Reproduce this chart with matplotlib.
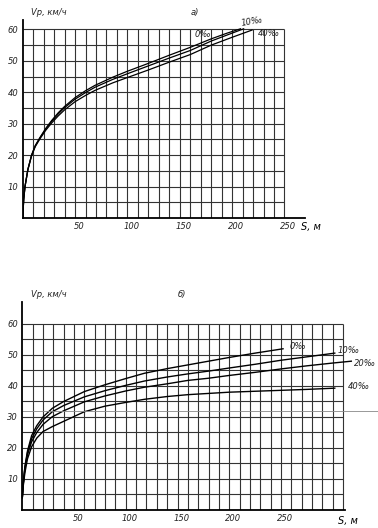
import matplotlib.pyplot as plt
from matplotlib.transforms import ScaledTranslation
import numpy as np

# --- panel a) ---
a_s0 = [0, 1, 2.2, 5, 8.5, 12, 16.5, 22, 27.6, 34, 40, 50, 60, 69, 86, 100, 120, 140, 160, 180, 195, 208]
a_v0 = [0, 6, 10, 15.5, 20, 23, 25.6, 28.5, 31, 33.5, 35.5, 38.3, 40.5, 42.2, 44.8, 46.7, 49.2, 51.8, 54.3, 57, 58.8, 60.2]
a_s10 = [0, 1, 2.2, 5, 8.5, 12, 16.5, 22, 27.6, 34, 40, 50, 60, 69, 86, 100, 120, 140, 160, 180, 195, 211]
a_v10 = [0, 6, 10, 15.5, 20, 23, 25.5, 28.3, 30.7, 33.1, 35.1, 37.8, 39.9, 41.6, 44.1, 45.9, 48.4, 50.9, 53.3, 56.3, 58.2, 60.2]
a_s40 = [0, 1, 2.2, 5, 8.5, 12, 16.5, 22, 27.6, 34, 40, 50, 60, 69, 86, 100, 120, 140, 160, 180, 200, 219]
a_v40 = [0, 6, 10, 15.4, 19.8, 22.7, 25.2, 27.9, 30.2, 32.5, 34.4, 37, 39, 40.6, 43, 44.7, 47.1, 49.6, 52, 55, 57.5, 59.8]
a_xticks = [50, 100, 150, 200, 250]
a_xlabels = ['50', '100', '150', '200', '250']
a_yticks = [10, 20, 30, 40, 50, 60]

# --- panel б) ---
b_s0 = [0, 1, 2.5, 5, 9, 14, 20, 29, 40, 60, 80, 100, 118, 140, 160, 180, 200, 225, 252]
b_v0 = [4, 9, 14, 19, 24, 27.2, 30, 32.8, 35, 38.2, 40.4, 42.4, 44.1, 45.6, 46.8, 48, 49.2, 50.6, 52]
b_s10 = [0, 1, 2.5, 5, 9, 14, 20, 29, 40, 60, 80, 100, 118, 140, 160, 180, 200, 225, 250, 275, 302]
b_v10 = [4, 8.8, 13.6, 18.5, 23, 26.2, 29, 31.7, 33.7, 36.5, 38.5, 40.2, 41.6, 42.9, 43.9, 44.8, 45.8, 47, 48.3, 49.4, 50.6]
b_s20 = [0, 1, 2.5, 5, 9, 14, 20, 29, 40, 60, 80, 100, 118, 140, 160, 180, 200, 225, 250, 275, 300, 318]
b_v20 = [4, 8.6, 13.2, 17.8, 22, 25, 27.6, 30.1, 32, 34.9, 36.8, 38.4, 39.6, 40.7, 41.8, 42.5, 43.4, 44.4, 45.5, 46.5, 47.4, 48]
b_s40 = [0, 1, 2.5, 5, 9, 14, 20, 29, 40, 60, 80, 100, 118, 140, 160, 180, 200, 225, 250, 275, 302]
b_v40 = [4, 8, 12, 16.5, 20.4, 23.2, 25.3, 26.9, 28.6, 31.7, 33.5, 34.7, 35.7, 36.6, 37.2, 37.6, 38, 38.3, 38.6, 38.9, 39.3]
b_xticks = [50, 100, 150, 200, 250]
b_xlabels = ['50', '100', '150', '200', '250']
b_yticks = [10, 20, 30, 40, 50, 60]

GRID_COLOR = '#333333'
LINE_COLOR = 'black'
FONT = dict(fontsize=6, style='italic', color='#222222')

fig = plt.figure(figsize=(3.78, 5.28), dpi=100)

def setup(ax, xmax_grid, xlim, ylim, xticks, xlabels, yticks):
    ax.set_xlim(*xlim)
    ax.set_ylim(*ylim)
    for s in ['top', 'right']:
        ax.spines[s].set_visible(False)
    for s in ['left', 'bottom']:
        ax.spines[s].set_linewidth(1.3)
    # hand-drawn grid: 10 m columns, 5 km/h rows
    ax.vlines(np.arange(10, xmax_grid + 1, 10), 0, 60, color=GRID_COLOR, lw=0.8)
    ax.hlines(np.arange(5, 61, 5), 0, xmax_grid, color=GRID_COLOR, lw=0.8)
    ax.set_xticks(xticks)
    ax.set_xticklabels(xlabels, **FONT)
    ax.set_yticks(yticks)
    ax.set_yticklabels([str(t) for t in yticks], **FONT)
    ax.tick_params(axis='both', length=0, pad=3)
    offset = ScaledTranslation(4 / 100, 0, fig.dpi_scale_trans)
    for lbl in ax.get_xticklabels():
        lbl.set_transform(lbl.get_transform() + offset)

# panel a)
ax1 = fig.add_axes([0.060, 0.5871, 0.748, 0.375])
setup(ax1, 250, (0, 270), (0, 63), a_xticks, a_xlabels, a_yticks)
ax1.plot(a_s0, a_v0, color=LINE_COLOR, lw=0.9)
ax1.plot(a_s10, a_v10, color=LINE_COLOR, lw=0.9)
ax1.plot(a_s40, a_v40, color=LINE_COLOR, lw=0.9)
ax1.text(172, 58.3, '0‰', ha='center', va='center', **FONT)
ax1.text(219, 62.4, '10‰', ha='center', va='center', rotation=10, clip_on=False, **FONT)
ax1.text(235, 58.6, '40‰', ha='center', va='center', **FONT)
ax1.text(8, 65.5, 'Vр, км/ч', ha='left', va='center', clip_on=False, **FONT)
ax1.text(160, 65.5, 'а)', ha='left', va='center', clip_on=False, **FONT)
ax1.text(266, -3, 'S, м', ha='left', va='center', clip_on=False, fontsize=7, style='italic')

# panel б)
ax2 = fig.add_axes([0.059, 0.0341, 0.854, 0.3934])
setup(ax2, 310, (0, 312), (0, 67), b_xticks, b_xlabels, b_yticks)
ax2.plot(b_s0, b_v0, color=LINE_COLOR, lw=1.0)
ax2.plot(b_s10, b_v10, color=LINE_COLOR, lw=1.0)
ax2.plot(b_s20, b_v20, color=LINE_COLOR, lw=1.0, clip_on=False)
ax2.plot(b_s40, b_v40, color=LINE_COLOR, lw=1.0)
ax2.hlines(31.8, 0, 345, color='#888888', lw=0.6, clip_on=False)
ax2.text(266, 52.6, '0‰', ha='center', va='center', **FONT)
ax2.text(315, 51.4, '10‰', ha='center', va='center', clip_on=False, **FONT)
ax2.text(331, 47.2, '20‰', ha='center', va='center', clip_on=False, **FONT)
ax2.text(325, 39.8, '40‰', ha='center', va='center', clip_on=False, **FONT)
ax2.text(8, 69.5, 'Vр, км/ч', ha='left', va='center', clip_on=False, **FONT)
ax2.text(150, 69.5, 'б)', ha='left', va='center', clip_on=False, **FONT)
ax2.text(305, -3.6, 'S, м', ha='left', va='center', clip_on=False, fontsize=7, style='italic')

fig.savefig('out.png', dpi=100, facecolor='white')
